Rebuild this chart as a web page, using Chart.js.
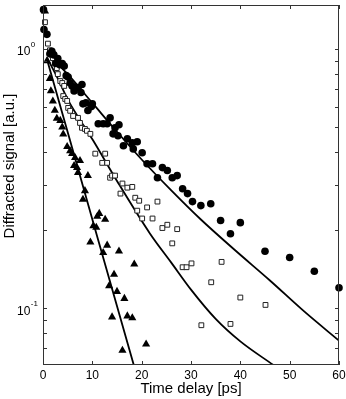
<!DOCTYPE html>
<html>
<head>
<meta charset="utf-8">
<script src="https://cdn.jsdelivr.net/npm/chart.js@4/dist/chart.umd.min.js"></script>
<style>
body { margin: 0; background: #fff; }
canvas { display: block; }
</style>
</head>
<body>
<canvas id="myChart" width="346" height="399"></canvas>
<script>
// filled circles
var circT = [0.1, 0.2, 0.8, 1.4, 1.8, 2.2, 2.6, 3.0, 3.4, 3.9, 4.3, 4.7, 5.1, 5.5, 5.9, 6.3, 6.7, 7.1, 7.7, 7.9, 8.1, 8.7, 9.1, 9.8, 10.0,
    11.2, 12.2, 13.0, 13.6, 14.2, 14.6, 15.2, 15.4, 16.3, 17.1, 18.1, 18.3, 19.1, 20.1, 21.1, 22.2, 23.2, 24.2, 25.2, 26.2, 27.2,
    28.3, 29.3, 30.3, 32, 34, 36, 38, 40, 45, 50, 55, 60];
var circV = [1.42, 1.19, 1.14, 0.96, 0.98, 0.95, 0.88, 0.92, 0.87, 0.88, 0.86, 0.79, 0.78, 0.74, 0.72, 0.69, 0.71, 0.71, 0.68, 0.73, 0.615, 0.62, 0.58, 0.60, 0.615,
    0.515, 0.515, 0.515, 0.543, 0.471, 0.497, 0.463, 0.511, 0.424, 0.451, 0.435, 0.412, 0.439, 0.398, 0.361, 0.361, 0.319, 0.349, 0.340, 0.319, 0.325,
    0.289, 0.277, 0.258, 0.249, 0.253, 0.218, 0.194, 0.214, 0.166, 0.157, 0.139, 0.120];

// open squares
var sqT = [0.4, 0.6, 1.0, 1.4, 1.8, 2.0, 2.4, 2.8, 3.0, 3.5, 3.9, 4.1, 4.3, 4.5, 4.9, 5.1, 5.5, 6.1, 7.1, 7.5, 7.9, 8.5, 8.9, 9.6,
    10.6, 12.0, 12.6, 13.0, 13.6, 14.0, 14.6, 15.7, 16.1, 17.1, 18.1, 18.7, 19.1, 19.5, 20.1, 21.1, 22.2, 23.2, 24.2, 25.2, 26.2, 27.2,
    28.3, 29.1, 30.1, 32.1, 34.1, 36.2, 38.0, 40.0, 45.1];
var sqV = [1.27, 1.14, 1.05, 0.99, 0.965, 0.923, 0.884, 0.845, 0.801, 0.753, 0.740, 0.659, 0.721, 0.642, 0.631, 0.593, 0.578, 0.552, 0.543, 0.519, 0.497, 0.492, 0.484, 0.471,
    0.395, 0.364, 0.395, 0.364, 0.319, 0.325, 0.325, 0.277, 0.303, 0.292, 0.294, 0.267, 0.238, 0.260, 0.222, 0.245, 0.222, 0.258, 0.204, 0.210, 0.178, 0.202,
    0.144, 0.144, 0.149, 0.086, 0.126, 0.151, 0.087, 0.110, 0.103];

// filled triangles
var triT = [0.4, 0.8, 1.4, 1.6, 2.0, 2.4, 2.8, 3.5, 3.9, 4.1, 4.9, 5.5, 5.9, 6.3, 6.5, 6.9, 7.1, 7.5, 8.1, 8.5, 9.1, 9.6, 10.2, 10.8, 11.0, 11.4,
    12.2, 12.6, 13.0, 13.4, 14.0, 14.4, 15.0, 15.4, 16.1, 16.5, 17.1, 18.1, 18.5, 20.9];
var triV = [1.40, 0.90, 0.77, 0.69, 0.63, 0.58, 0.54, 0.53, 0.50, 0.47, 0.42, 0.405, 0.395, 0.355, 0.381, 0.349, 0.334, 0.371, 0.263, 0.284, 0.325, 0.180, 0.208, 0.205, 0.226, 0.232,
    0.164, 0.220, 0.175, 0.122, 0.0925, 0.135, 0.116, 0.166, 0.0688, 0.109, 0.0933, 0.0917, 0.148, 0.0727];

// fitted curves
var circFitT = [0.8, 5, 10, 15, 20, 26, 32, 39, 46, 53, 60];
var circFitV = [0.96, 0.80, 0.62, 0.48, 0.375, 0.285, 0.220, 0.167, 0.128, 0.097, 0.075];
var sqFitT = [0.8, 3, 5, 10.2, 15, 21.7, 26, 30, 35, 40, 46.7];
var sqFitV = [0.93, 0.77, 0.64, 0.443, 0.31, 0.194, 0.150, 0.118, 0.091, 0.0745, 0.0604];
var triFitT = [0.8, 5.5, 11.2, 18.4];
var triFitV = [0.914, 0.443, 0.183, 0.0604];

var xTicks = [0, 10, 20, 30, 40, 50, 60];
var yMajor = [1, 0.1];
var yExp = ['0', '-1'];
var yMinor = [0.07, 0.08, 0.09, 0.2, 0.3, 0.4, 0.5, 0.6, 0.7, 0.8, 0.9];

function pts(t, v) {
    var out = [];
    for (var i = 0; i < t.length; i++) {
        out.push({x: t[i], y: v[i]});
    }
    return out;
}

var fontName = '"Liberation Sans", Arial, sans-serif';

// frame, inward ticks and the axis texts
var framePlugin = {
    id: 'frame',
    afterDraw: function (chart) {
        var ctx = chart.ctx;
        var a = chart.chartArea;
        var xs = chart.scales.x;
        var ys = chart.scales.y;
        ctx.save();
        ctx.strokeStyle = '#333';
        ctx.lineWidth = 1;
        ctx.strokeRect(a.left + 0.5, a.top + 0.5, a.right - a.left - 1, a.bottom - a.top - 1);

        ctx.beginPath();
        xTicks.forEach(function (t) {
            var px = Math.round(xs.getPixelForValue(t)) + 0.5;
            ctx.moveTo(px, a.bottom); ctx.lineTo(px, a.bottom - 4);
            ctx.moveTo(px, a.top); ctx.lineTo(px, a.top + 4);
        });
        yMajor.concat(yMinor).forEach(function (v) {
            var py = Math.round(ys.getPixelForValue(v)) + 0.5;
            ctx.moveTo(a.left, py); ctx.lineTo(a.left + 4, py);
            ctx.moveTo(a.right, py); ctx.lineTo(a.right - 4, py);
        });
        ctx.stroke();

        ctx.fillStyle = '#000';
        ctx.font = '12px ' + fontName;
        ctx.textAlign = 'center';
        ctx.textBaseline = 'middle';
        xTicks.forEach(function (t) {
            ctx.fillText(String(t), xs.getPixelForValue(t), a.bottom + 11);
        });

        ctx.textAlign = 'left';
        yMajor.forEach(function (v, i) {
            var py = ys.getPixelForValue(v);
            ctx.font = '12px ' + fontName;
            ctx.fillText('10', 17, py + 3);
            var w = ctx.measureText('10').width;
            ctx.font = '8px ' + fontName;
            ctx.fillText(yExp[i], 17 + w + 0.5, py - 4);
        });

        ctx.font = '15px ' + fontName;
        ctx.textAlign = 'center';
        ctx.textBaseline = 'alphabetic';
        ctx.fillText('Time delay [ps]', (a.left + a.right) / 2, 393);

        ctx.translate(14, 166);
        ctx.rotate(-Math.PI / 2);
        ctx.fillText('Diffracted signal [a.u.]', 0, 0);
        ctx.restore();
    }
};

var ctx = document.getElementById('myChart');
var myChart = new Chart(ctx, {
    type: 'scatter',
    data: {
        datasets: [{
            data: pts(circT, circV),
            pointStyle: 'circle',
            pointRadius: 3.8,
            backgroundColor: '#000',
            borderColor: '#000',
            borderWidth: 0,
            clip: false
        }, {
            data: pts(triT, triV),
            pointStyle: 'triangle',
            pointRadius: 4.7,
            backgroundColor: '#000',
            borderColor: '#000',
            borderWidth: 0,
            clip: false
        }, {
            data: pts(sqT, sqV),
            pointStyle: 'rect',
            pointRadius: 3.4,
            backgroundColor: '#fff',
            borderColor: '#222',
            borderWidth: 1,
            clip: false
        }, {
            data: pts(circFitT, circFitV),
            showLine: true,
            pointRadius: 0,
            borderColor: '#000',
            borderWidth: 1.8,
            cubicInterpolationMode: 'monotone'
        }, {
            data: pts(sqFitT, sqFitV),
            showLine: true,
            pointRadius: 0,
            borderColor: '#000',
            borderWidth: 1.8,
            cubicInterpolationMode: 'monotone'
        }, {
            data: pts(triFitT, triFitV),
            showLine: true,
            pointRadius: 0,
            borderColor: '#000',
            borderWidth: 1.8
        }]
    },
    options: {
        responsive: false,
        animation: false,
        layout: { padding: { top: 4, right: 7, left: 0, bottom: 0 } },
        plugins: {
            legend: { display: false },
            tooltip: { enabled: false }
        },
        scales: {
            x: {
                type: 'linear', min: 0, max: 60,
                grid: { display: false },
                border: { display: false },
                ticks: { display: false },
                afterFit: function (s) { s.height = 34; }
            },
            y: {
                type: 'logarithmic', min: 0.0604, max: 1.48,
                grid: { display: false },
                border: { display: false },
                ticks: { display: false },
                afterFit: function (s) { s.width = 43; }
            }
        }
    },
    plugins: [framePlugin]
});
</script>
</body>
</html>
